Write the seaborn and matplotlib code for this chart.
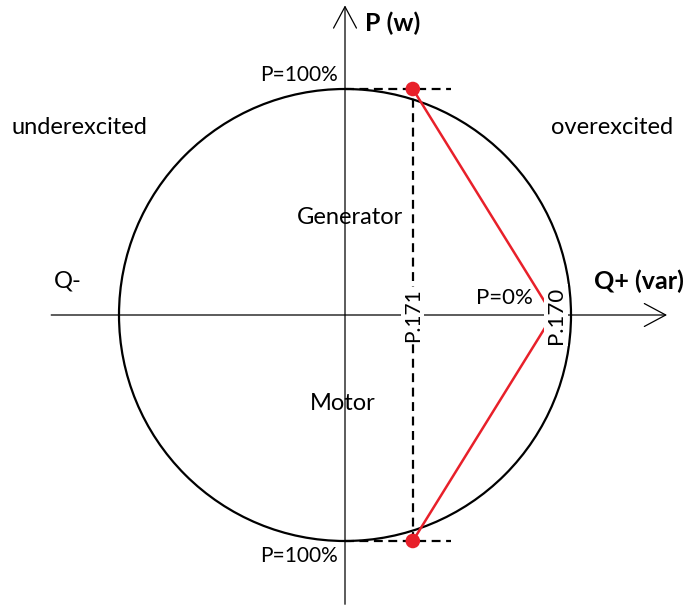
import numpy as np
import pandas as pd
import matplotlib
matplotlib.use("Agg")
import matplotlib.pyplot as plt
from matplotlib.patches import Circle
import seaborn as sns

sns.set_style("white")
plt.rcParams['font.family'] = ['Lato', 'DejaVu Sans']
plt.rcParams['text.color'] = 'black'

# capability curve, per-unit (Q, P)
radius = 1.0
limit_q = [0.3, 0.92, 0.3]         # P.171 at P=100%, P.170 at P=0%
limit_p = [1.0, 0.0, -1.0]
dash_q = [0.0, 0.47]               # dashed P=100% guides
p171_q = 0.3

curve = pd.DataFrame({"Q": limit_q, "P": limit_p, "pt": range(3)})
ends = curve.iloc[[0, 2]]

fig = plt.figure(figsize=(6.84, 6.07), dpi=100)
ax = fig.add_axes([0, 0, 1, 1])
ax.set_xlim(-345 / 226, 339 / 226)
ax.set_ylim(-292 / 226, 315 / 226)
ax.set_aspect('equal')
ax.axis('off')

ax.add_patch(Circle((0, 0), radius, fill=False, ec='black', lw=1.6, zorder=2))

arrow = dict(arrowstyle='->,head_length=1.4,head_width=0.75', color='black',
             lw=0.9, mutation_scale=11, shrinkA=0, shrinkB=0)
ax.annotate('', xy=(1.425, 0), xytext=(-1.30, 0), arrowprops=arrow, zorder=1)
ax.annotate('', xy=(0, 1.37), xytext=(0, -1.28), arrowprops=arrow, zorder=1)

for p in (1.0, -1.0):
    ax.plot(dash_q, [p, p], color='black', lw=1.6, ls=(0, (4, 2.5)), zorder=3)
ax.plot([p171_q, p171_q], [-1.0, 1.0], color='black', lw=1.6, ls=(0, (4, 2.5)), zorder=3)

red = '#e8202a'
sns.lineplot(data=curve, x="Q", y="P", sort=False, estimator=None, color=red,
             lw=1.8, ax=ax, zorder=4)
sns.scatterplot(data=ends, x="Q", y="P", color=red, s=110, edgecolor='none',
                ax=ax, zorder=5)
ax.set_xlabel('')
ax.set_ylabel('')

fs = 17
ax.text(0.09, 1.29, 'P (w)', fontsize=18, fontweight='bold', va='center', ha='left')
ax.text(1.10, 0.15, 'Q+ (var)', fontsize=18, fontweight='bold', va='center', ha='left')
ax.text(-1.29, 0.15, 'Q-', fontsize=fs, va='center', ha='left')
ax.text(-1.475, 0.83, 'underexcited', fontsize=fs, va='center', ha='left')
ax.text(0.91, 0.83, 'overexcited', fontsize=fs, va='center', ha='left')
ax.text(0.02, 0.43, 'Generator', fontsize=fs, va='center', ha='center')
ax.text(-0.01, -0.39, 'Motor', fontsize=fs, va='center', ha='center')
ax.text(0.83, 0.075, 'P=0%', fontsize=16, va='center', ha='right')
ax.text(-0.03, 1.06, 'P=100%', fontsize=15, va='center', ha='right')
ax.text(-0.03, -1.065, 'P=100%', fontsize=15, va='center', ha='right')
ax.text(0.935, 0.0, 'P.170', fontsize=16, rotation=90, va='center', ha='center',
        bbox=dict(fc='white', ec='none', pad=1.5), zorder=6)
ax.text(p171_q, 0.0, 'P.171', fontsize=15, rotation=90, va='center', ha='center',
        bbox=dict(fc='white', ec='none', pad=1.0), zorder=6)

fig.savefig('out.png', dpi=100)
